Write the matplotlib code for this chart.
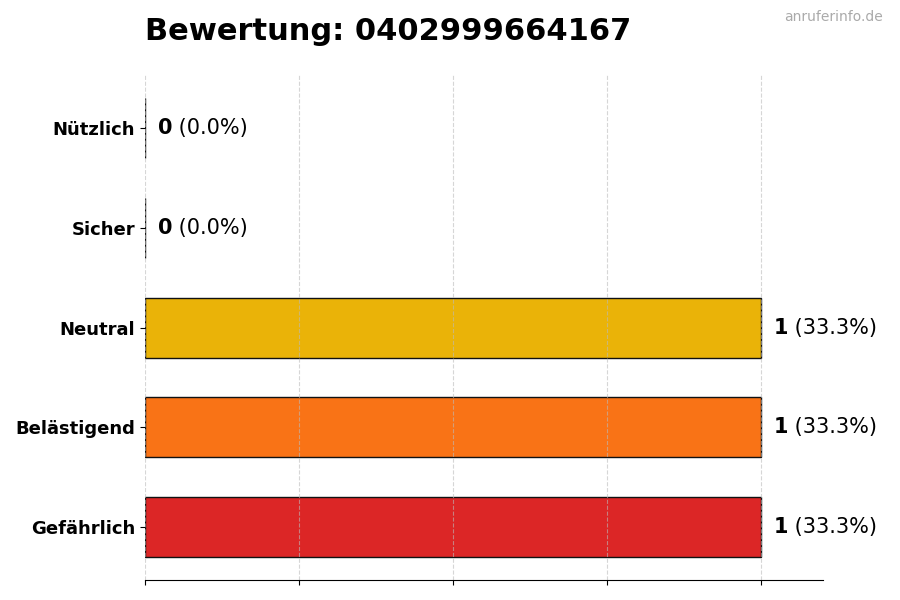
import matplotlib
matplotlib.use("Agg")
import matplotlib.pyplot as plt

# ---------- Data ----------
categories = ["Nützlich", "Sicher", "Neutral", "Belästigend", "Gefährlich"]
counts = [0, 0, 1, 1, 1]
percents = [0.0, 0.0, 33.3, 33.3, 33.3]
colors = ["#16A34A", "#2563EB", "#EAB308", "#F97316", "#DC2626"]
x_ticks = [0, 0.25, 0.5, 0.75, 1.0]
title = "Bewertung: 0402999664167"
watermark = "anruferinfo.de"

fig = plt.figure(figsize=(9, 6), dpi=100)
ax = fig.add_axes([0.161, 0.033, 0.753, 0.842])

ypos = list(range(len(categories)))[::-1]
ax.barh(ypos, counts, height=0.6, color=colors, edgecolor="#111111", linewidth=1.0)

ax.set_yticks(ypos)
ax.set_yticklabels(categories, fontsize=13, fontweight="bold")
ax.set_xticks(x_ticks)
ax.set_xticklabels([])
ax.set_xlim(0, 1.1)
ax.grid(axis="x", linestyle="--", color="#bbbbbb", alpha=0.6, linewidth=0.8)

for side in ("top", "right", "left"):
    ax.spines[side].set_visible(False)

for y, c, p in zip(ypos, counts, percents):
    t1 = ax.text(c + 0.021, y, str(c), fontsize=15, fontweight="bold",
                 ha="left", va="center")
    ax.annotate(f" ({p:.1f}%)", xy=(1, 0.5), xycoords=t1, fontsize=15,
                ha="left", va="center")

fig.text(0.161, 0.948, title, fontsize=22, fontweight="bold", ha="left", va="center")
fig.text(0.981, 0.971, watermark, fontsize=10, color="#aaaaaa", ha="right", va="center")

fig.savefig("out.png", dpi=100)
